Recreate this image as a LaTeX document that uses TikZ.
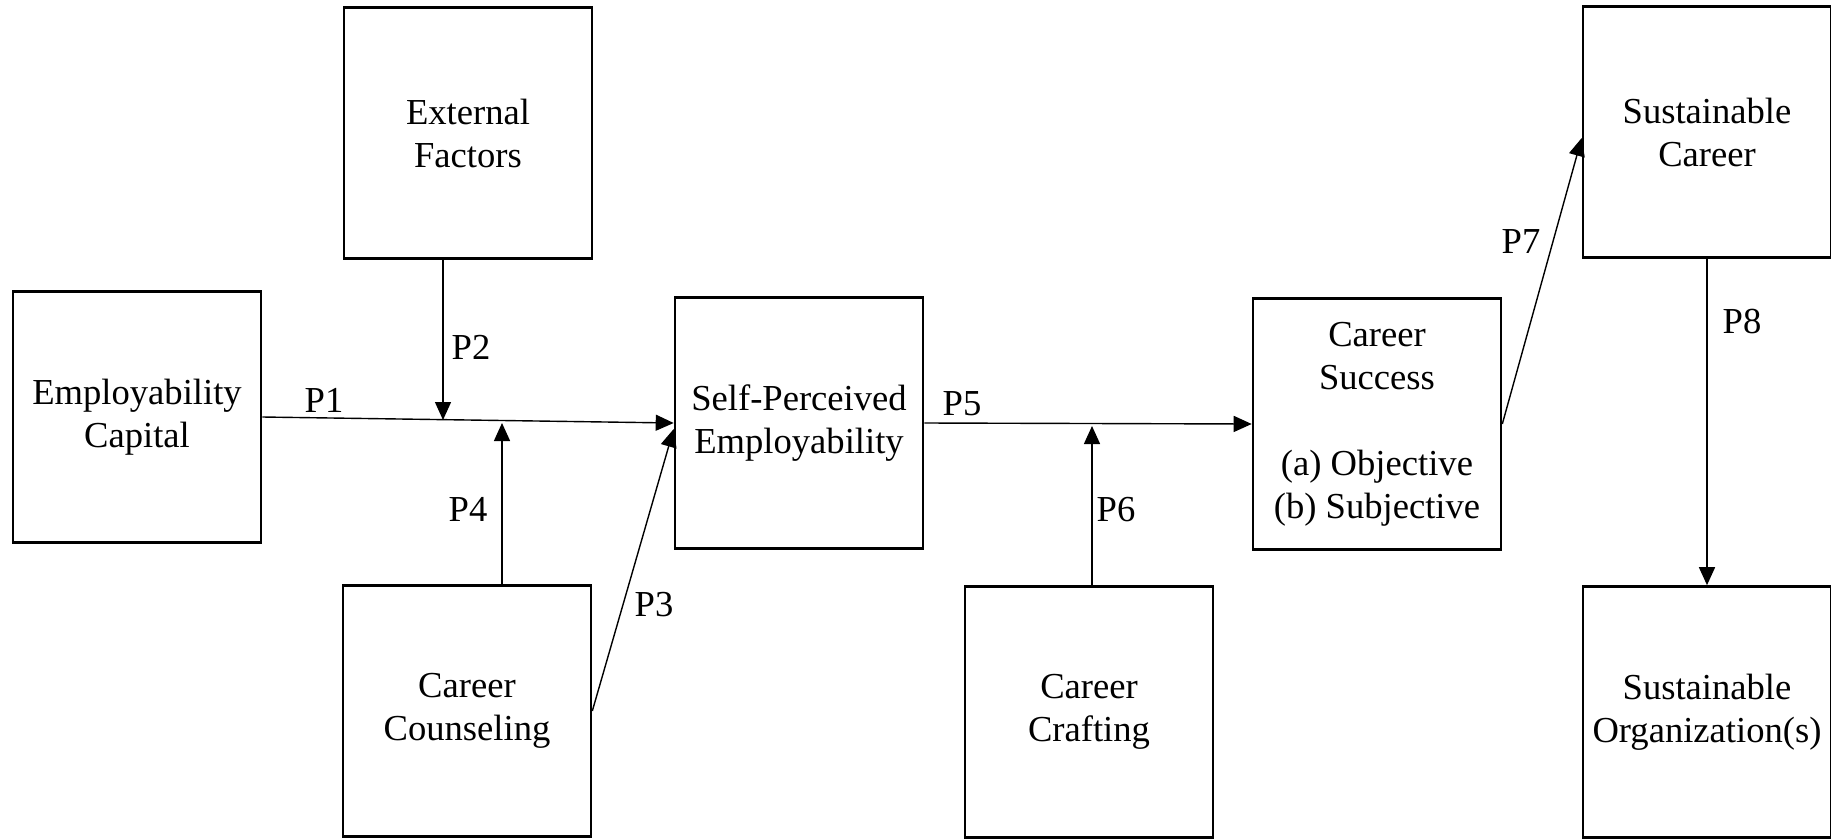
\documentclass[tikz,border=0pt]{standalone}
\usepackage{fontspec}
\newfontfamily\tnr{Liberation Serif}
\usetikzlibrary{arrows.meta}

\tikzset{
  box/.style={rectangle, draw, line width=2.6pt, minimum width=248pt, minimum height=251pt,
    align=center, font=\tnr\fontsize{36.6}{43}\selectfont},
  lbl/.style={font=\tnr\fontsize{36.6}{43}\selectfont},
  arr/.style={-{Triangle[length=18pt,width=16pt]}, line width=1.4pt}
}

\begin{document}
\begin{tikzpicture}[x=1pt, y=-1pt]
  \useasboundingbox (0,0) rectangle (1831,838);

  % boxes
  \node[box] (ec)  at (137,417)  {Employability\\Capital};
  \node[box] (ef)  at (468,133)  {External\\Factors};
  \node[box] (cc)  at (467,711)  {Career\\Counseling};
  \node[box] (spe) at (799,423)  {Self-Perceived\\Employability};
  \node[box] (cs)  at (1377,424) {Career\\Success\\[43pt](a) Objective\\(b) Subjective};
  \node[box] (ccr) at (1089,712) {Career\\Crafting};
  \node[box] (sc)  at (1707,132) {Sustainable\\Career};
  \node[box] (so)  at (1707,712) {Sustainable\\Organization(s)};

  % points where moderators meet the paths
  \coordinate (j2) at (443,420);
  \coordinate (j4) at (502,423);
  \coordinate (j6) at (1092,426);

  % paths
  \draw[arr] (ec.east) -- (spe.west);
  \draw[arr] (ef.south -| j2) -- (j2);
  \draw[arr] (cc.north -| j4) -- (j4);
  \draw[arr] (cc.east) -- ([yshift=-6pt]spe.west);
  \draw[arr] (spe.east) -- (cs.west);
  \draw[arr] (ccr.north -| j6) -- (j6);
  \draw[arr] (cs.east) -- ([yshift=-6pt]sc.west);
  \draw[arr] (sc.south) -- (so.north);

  % labels
  \node[lbl] (p1) at (324,400)  {P1};
  \node[lbl] (p2) at (471,347)  {P2};
  \node[lbl] (p3) at (654,605)  {P3};
  \node[lbl] (p4) at (468,509)  {P4};
  \node[lbl] (p5) at (962,404)  {P5};
  \node[lbl] (p6) at (1116,510) {P6};
  \node[lbl] (p7) at (1521,242) {P7};
  \node[lbl] (p8) at (1742,322) {P8};
\end{tikzpicture}
\end{document}
